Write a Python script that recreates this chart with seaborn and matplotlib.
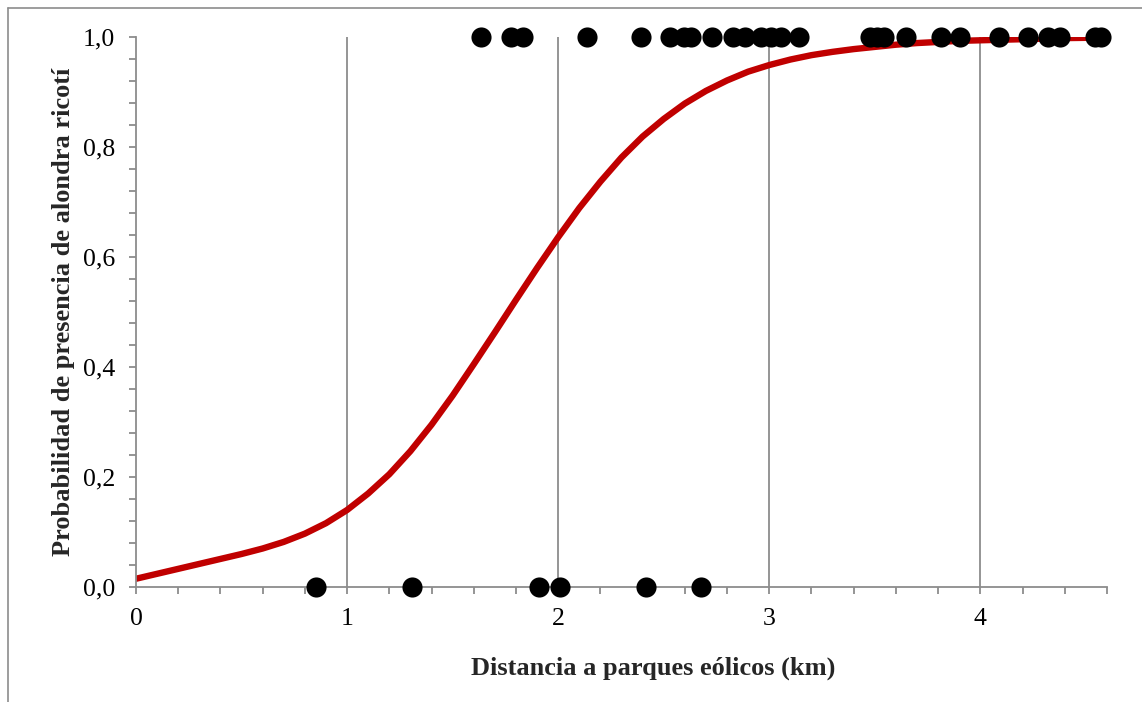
import matplotlib
matplotlib.use("Agg")
import matplotlib.pyplot as plt
from matplotlib.lines import Line2D
from matplotlib.ticker import MultipleLocator
import pandas as pd
import seaborn as sns

# observed presence (1) / absence (0) against distance to wind farms
dist_presence = [1.635, 1.777, 1.834, 2.137, 2.393, 2.531, 2.597, 2.630, 2.730,
                 2.829, 2.886, 2.962, 3.009, 3.057, 3.142, 3.479, 3.512, 3.545,
                 3.649, 3.815, 3.905, 4.090, 4.227, 4.322, 4.379, 4.545, 4.573]
dist_absence = [0.853, 1.308, 1.910, 2.009, 2.417, 2.678]

# fitted probability curve
curve_x = [0.0, 0.1, 0.2, 0.3, 0.4, 0.5, 0.6, 0.7, 0.8, 0.9, 1.0, 1.1, 1.2,
           1.3, 1.4, 1.5, 1.6, 1.7, 1.8, 1.9, 2.0, 2.1, 2.2, 2.3, 2.4, 2.5,
           2.6, 2.7, 2.8, 2.9, 3.0, 3.1, 3.2, 3.3, 3.4, 3.5, 3.6, 3.7, 3.8,
           3.9, 4.0, 4.2, 4.4, 4.6]
curve_y = [0.015, 0.024, 0.033, 0.042, 0.051, 0.060, 0.070, 0.082, 0.097,
           0.116, 0.140, 0.170, 0.205, 0.247, 0.295, 0.348, 0.405, 0.463,
           0.522, 0.580, 0.636, 0.689, 0.737, 0.781, 0.819, 0.851, 0.879,
           0.902, 0.921, 0.937, 0.949, 0.959, 0.967, 0.973, 0.978, 0.982,
           0.986, 0.989, 0.991, 0.993, 0.994, 0.996, 0.998, 0.999]

x_ticks = [0, 1, 2, 3, 4]
y_ticks = [0.0, 0.2, 0.4, 0.6, 0.8, 1.0]
y_labels = ["0,0", "0,2", "0,4", "0,6", "0,8", "1,0"]

obs = pd.DataFrame({
    "dist": dist_presence + dist_absence,
    "pres": [1.0] * len(dist_presence) + [0.0] * len(dist_absence),
})
curve = pd.DataFrame({"dist": curve_x, "prob": curve_y})

sns.set_style("white")
plt.rcParams["font.family"] = ["Liberation Serif", "DejaVu Serif"]

fig = plt.figure(figsize=(11.42, 7.02), dpi=100)
ax = fig.add_axes([136 / 1142, 1 - 587 / 702, (1107 - 136) / 1142, (587 - 37) / 702])

grey = "#8c8c8c"
for xv in [1, 2, 3, 4]:
    ax.axvline(xv, color=grey, lw=1.3, zorder=0)

sns.lineplot(data=curve, x="dist", y="prob", ax=ax, color="#c00000", lw=4.6,
             zorder=2)
sns.scatterplot(data=obs, x="dist", y="pres", ax=ax, color="black", s=210,
                edgecolor="black", linewidth=0, zorder=3, clip_on=False)

ax.set_xlim(0, 4.6)
ax.set_ylim(0, 1.0)
ax.set_xticks(x_ticks)
ax.set_xticklabels([str(v) for v in x_ticks])
ax.set_yticks(y_ticks)
ax.set_yticklabels(y_labels)
ax.xaxis.set_minor_locator(MultipleLocator(0.2))
ax.yaxis.set_minor_locator(MultipleLocator(0.04))
ax.tick_params(axis="both", which="both", direction="out", color=grey,
               width=1.3, length=5, labelsize=18.5, labelcolor="black")
ax.tick_params(axis="x", which="both", bottom=True, pad=10)
ax.tick_params(axis="y", which="both", left=True, pad=10)

for side in ["top", "right"]:
    ax.spines[side].set_visible(False)
for side in ["left", "bottom"]:
    ax.spines[side].set_color(grey)
    ax.spines[side].set_linewidth(1.3)

ax.set_xlabel("Distancia a parques eólicos (km)", fontsize=19,
              fontweight="bold", labelpad=19)
ax.xaxis.label.set_x(0.533)
ax.set_ylabel("Probabilidad de presencia de alondra ricotí", fontsize=19,
              fontweight="bold", labelpad=5.5)

# chart area border (only top and left edges fall inside the picture)
fig.add_artist(Line2D([8 / 1142, 8 / 1142], [0, 1 - 8 / 702],
                      transform=fig.transFigure, color=grey, lw=1.2))
fig.add_artist(Line2D([8 / 1142, 1], [1 - 8 / 702, 1 - 8 / 702],
                      transform=fig.transFigure, color=grey, lw=1.2))

fig.savefig("out.png", dpi=100)
